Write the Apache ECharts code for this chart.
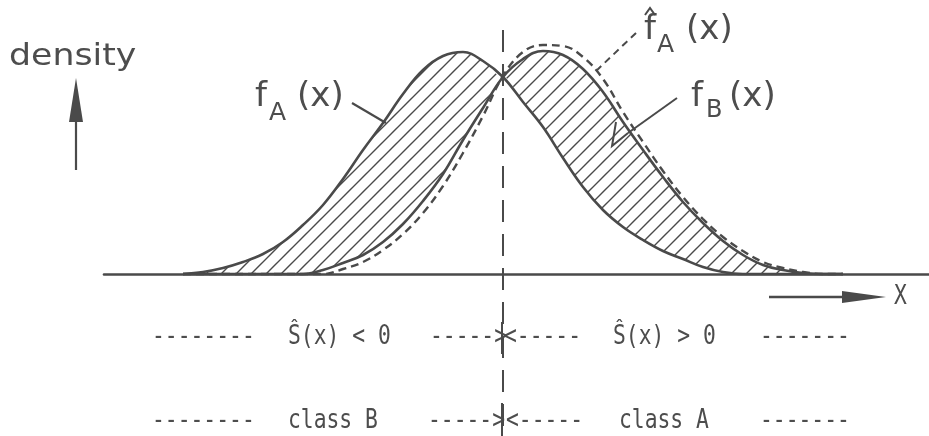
<!DOCTYPE html>
<html>
<head>
<meta charset="utf-8">
<script src="https://cdn.jsdelivr.net/npm/echarts@6/dist/echarts.min.js"></script>
<style>
  html, body { margin: 0; padding: 0; background: #ffffff; }
  #chart { width: 929px; height: 436px; }
</style>
</head>
<body>
<div id="chart"></div>
<script>
// Feature value x (0 = where the two class densities cross, i.e. the decision point)
const xPos = [-3.2, -3.0, -2.8, -2.6, -2.4, -2.2, -2.0, -1.8, -1.6, -1.4, -1.2, -1.0, -0.8,
  -0.6, -0.4, -0.2, 0, 0.2, 0.4, 0.6, 0.8, 1.0, 1.2, 1.4, 1.6, 1.8, 2.0, 2.2, 2.4, 2.6, 2.8,
  3.0, 3.2, 3.4];

// True density of class A, f_A(x)
const densityA = [0, 0.004, 0.012, 0.024, 0.040, 0.064, 0.098, 0.138, 0.190, 0.248, 0.302,
  0.360, 0.408, 0.436, 0.444, 0.426, 0.394, 0.344, 0.294, 0.232, 0.174, 0.128, 0.094, 0.068,
  0.046, 0.030, 0.014, 0.004, 0, 0, 0, 0, 0, 0];

// True density of class B, f_B(x)
const densityB = [0, 0, 0, 0, 0, 0, 0, 0.008, 0.022, 0.038, 0.064, 0.100, 0.146, 0.200,
  0.268, 0.332, 0.394, 0.430, 0.446, 0.438, 0.410, 0.364, 0.304, 0.248, 0.194, 0.144, 0.102,
  0.066, 0.038, 0.018, 0.008, 0.002, 0, 0];

// Estimated density of class A, f^_A(x)
const densityAHat = [0, 0, 0, 0, 0, 0, 0, 0, 0.010, 0.024, 0.048, 0.080, 0.122, 0.176,
  0.242, 0.316, 0.396, 0.444, 0.458, 0.456, 0.434, 0.390, 0.324, 0.264, 0.206, 0.154, 0.110,
  0.074, 0.046, 0.024, 0.012, 0.004, 0, 0];

const decisionX = 0;

// Text pieces of the two decision rows beneath the axis
const rowScore = ['--------', 'Ŝ(x) < 0', '----->', '<-----', 'Ŝ(x) > 0', '-------'];
const rowClass = ['--------', 'class B', '----->', '<-----', 'class A', '-------'];

const INK = '#4a4a4a';
const TEXT = '#4d4d4d';

// diagonal hatching used for the area between the two densities
function hatchPattern(size, color, width) {
  const c = document.createElement('canvas');
  c.width = size; c.height = size;
  const g = c.getContext('2d');
  g.strokeStyle = color;
  g.lineWidth = width;
  g.beginPath();
  g.moveTo(0, size); g.lineTo(size, 0);
  g.moveTo(-2, 2); g.lineTo(2, -2);
  g.moveTo(size - 2, size + 2); g.lineTo(size + 2, size - 2);
  g.stroke();
  return c;
}

const pts = (ys) => xPos.map((x, i) => [x, ys[i]]);
// hatched band = area under the larger density minus area under the smaller one
const upper = xPos.map((x, i) => [x, Math.max(densityA[i], densityB[i])]);
const lower = xPos.map((x, i) => [x, Math.min(densityA[i], densityB[i])]);

const chart = echarts.init(document.getElementById('chart'), null, { renderer: 'canvas' });

const monoFont = '27px "DejaVu Sans Mono"';
function rowText(x, y, s) {
  return {
    type: 'text', x: x, y: y, scaleX: 0.79,
    style: { text: s, font: monoFont, fill: TEXT, textAlign: 'left', textVerticalAlign: 'middle' }
  };
}
function sans(x, y, s, size, sx) {
  return {
    type: 'text', x: x, y: y, scaleX: sx || 1,
    style: { text: s, font: size + 'px "DejaVu Sans"', fill: TEXT, textAlign: 'left', textVerticalAlign: 'middle' }
  };
}
function seg(x1, y1, x2, y2, w, dash) {
  return {
    type: 'line', shape: { x1: x1, y1: y1, x2: x2, y2: y2 },
    style: { stroke: INK, lineWidth: w, lineDash: dash || null }
  };
}

const rowXs = [152, 288, 430, 504, 613, 760];
const rowXs2 = [152, 288, 428, 506, 619, 760];

const graphics = [
  // y-axis caption and arrow
  sans(9, 57, 'density', 31, 1.12),
  seg(76, 170, 76, 115, 2.2),
  { type: 'polygon', shape: { points: [[76, 78], [69, 122], [83, 122]] }, style: { fill: INK } },
  // x-axis arrow and caption
  seg(769, 297, 846, 297, 2.6),
  { type: 'polygon', shape: { points: [[886, 297], [842, 291], [842, 303]] }, style: { fill: INK } },
  rowText(894, 297, 'X'),
  // f_A(x) label
  sans(255, 97, 'f', 34),
  sans(269, 113, 'A', 25),
  sans(297, 97, '(x)', 34),
  seg(352, 103, 386, 123, 2.2),
  // f^_A(x) label
  sans(644, 30, 'f', 34),
  { type: 'polyline', shape: { points: [[645, 15], [650, 8], [655, 15]] }, style: { stroke: INK, lineWidth: 2, fill: null } },
  sans(657, 45, 'A', 25),
  sans(686, 30, '(x)', 34),
  seg(636, 33, 595, 72, 2, [7, 5]),
  // f_B(x) label
  sans(691, 97, 'f', 34),
  sans(706, 111, 'B', 24),
  sans(729, 97, '(x)', 34),
  seg(677, 98, 628, 133, 2),
  { type: 'polyline', shape: { points: [[628, 133], [612, 146], [616, 122]] }, style: { stroke: INK, lineWidth: 2, fill: null } },
  // solid pieces of the decision line inside the two rows
  seg(502, 322, 502, 354, 2),
  seg(502, 403, 502, 436, 2)
];
rowScore.forEach((s, i) => graphics.push(rowText(rowXs[i], 337, s)));
rowClass.forEach((s, i) => graphics.push(rowText(rowXs2[i], 421, s)));

const option = {
  backgroundColor: '#ffffff',
  animation: false,
  grid: { left: 104, right: 0, top: 0, bottom: 0, containLabel: false },
  xAxis: {
    type: 'value', min: -3.99, max: 4.26, z: 10,
    axisLine: { show: true, onZero: true, lineStyle: { color: INK, width: 2.6 } },
    axisTick: { show: false }, axisLabel: { show: false }, splitLine: { show: false }
  },
  yAxis: {
    type: 'value', min: -0.324, max: 0.548,
    axisLine: { show: false }, axisTick: { show: false }, axisLabel: { show: false }, splitLine: { show: false }
  },
  series: [
    {
      name: 'upper', type: 'line', data: upper, smooth: 0.4,
      showSymbol: false, lineStyle: { width: 0, opacity: 0 }, silent: true, z: 1,
      areaStyle: { color: { image: hatchPattern(15, INK, 1.4), repeat: 'repeat' }, opacity: 1 }
    },
    {
      name: 'lower', type: 'line', data: lower, smooth: 0.4,
      showSymbol: false, lineStyle: { width: 0, opacity: 0 }, silent: true, z: 2,
      areaStyle: { color: '#ffffff', opacity: 1 }
    },
    {
      name: 'f_A', type: 'line', data: pts(densityA), smooth: 0.4, showSymbol: false,
      lineStyle: { color: INK, width: 2.6 }, z: 3,
      markLine: {
        silent: true, symbol: 'none', label: { show: false },
        lineStyle: { color: INK, width: 2, type: [22, 12] },
        data: [[{ coord: [decisionX, 0.488] }, { coord: [decisionX, -0.324] }]]
      }
    },
    {
      name: 'f_B', type: 'line', data: pts(densityB), smooth: 0.4, showSymbol: false,
      lineStyle: { color: INK, width: 2.6 }, z: 3
    },
    {
      name: 'f_A_hat', type: 'line', data: pts(densityAHat), smooth: 0.4, showSymbol: false,
      lineStyle: { color: INK, width: 2.4, type: [8, 5] }, z: 3
    }
  ],
  graphic: graphics
};
chart.setOption(option);
</script>
</body>
</html>
